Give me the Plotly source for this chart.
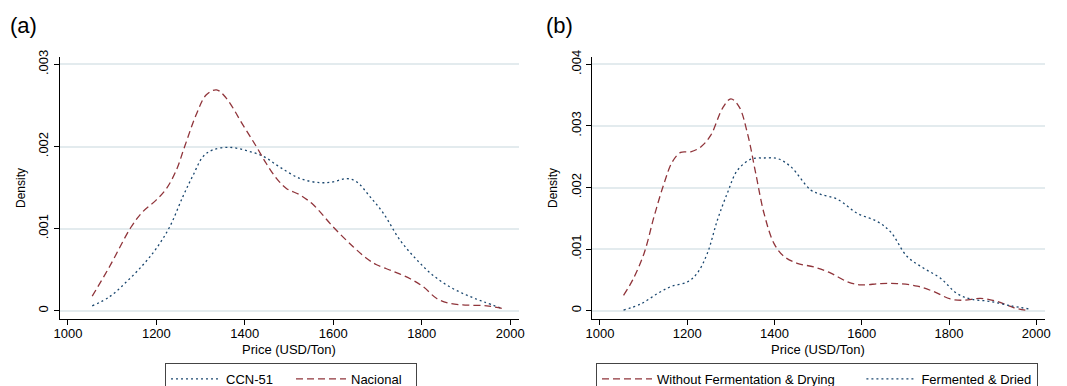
import plotly.graph_objects as go

# Panel (a)
a_ccn_x = [1055, 1094, 1132, 1170, 1200, 1230, 1260, 1283, 1306, 1328, 1366, 1404, 1442, 1479, 1525, 1570, 1600, 1630, 1653, 1683, 1713, 1751, 1789, 1826, 1864, 1902, 1940, 1981]
a_ccn_y = [0.00006, 0.00017, 0.00035, 0.00056, 0.00076, 0.00102, 0.00139, 0.00165, 0.00188, 0.00196, 0.00199, 0.00195, 0.00188, 0.00175, 0.00161, 0.00156, 0.00157, 0.00161, 0.00157, 0.00139, 0.00119, 0.00086, 0.00062, 0.00043, 0.00029, 0.00019, 0.00011, 0.00003]
a_nac_x = [1055, 1094, 1143, 1170, 1200, 1223, 1245, 1264, 1291, 1313, 1336, 1358, 1396, 1426, 1449, 1472, 1494, 1525, 1555, 1600, 1645, 1675, 1698, 1736, 1774, 1804, 1834, 1864, 1902, 1947, 1981]
a_nac_y = [0.000179, 0.000536, 0.00102, 0.00121, 0.00135, 0.00149, 0.00171, 0.00200, 0.00240, 0.00263, 0.00269, 0.00259, 0.00226, 0.00200, 0.00179, 0.00161, 0.00149, 0.00141, 0.00129, 0.00102, 0.00078, 0.00064, 0.00056, 0.00048, 0.00039, 0.00029, 0.00015, 0.00009, 0.00007, 0.00006, 0.00003]

# Panel (b)
b_wo_x = [1054, 1075, 1101, 1124, 1147, 1166, 1185, 1208, 1231, 1254, 1281, 1300, 1319, 1338, 1357, 1376, 1399, 1422, 1452, 1490, 1529, 1567, 1597, 1643, 1681, 1727, 1765, 1803, 1834, 1872, 1910, 1948, 1982]
b_wo_y = [0.00025, 0.00050, 0.00093, 0.00153, 0.00207, 0.00242, 0.00257, 0.00258, 0.00266, 0.00285, 0.00329, 0.00344, 0.00331, 0.00288, 0.00223, 0.00158, 0.00109, 0.00088, 0.00077, 0.00071, 0.00061, 0.00047, 0.00042, 0.00044, 0.00044, 0.00040, 0.00031, 0.00019, 0.00017, 0.00020, 0.00015, 0.00005, 0.0]
b_fd_x = [1054, 1094, 1132, 1162, 1201, 1223, 1246, 1269, 1292, 1315, 1346, 1376, 1407, 1437, 1483, 1506, 1544, 1590, 1635, 1666, 1704, 1742, 1780, 1818, 1849, 1895, 1941, 1982]
b_fd_y = [0.00001, 0.00011, 0.00028, 0.00039, 0.00047, 0.00061, 0.00093, 0.00147, 0.00191, 0.00228, 0.00246, 0.00248, 0.00247, 0.00234, 0.00196, 0.00189, 0.00181, 0.00158, 0.00145, 0.00128, 0.00088, 0.00069, 0.00053, 0.00028, 0.00019, 0.00015, 0.00008, 0.00003]

x_ticks = [1000, 1200, 1400, 1600, 1800, 2000]
a_yticks = [0, 0.001, 0.002, 0.003]
a_ytext = ["0", ".001", ".002", ".003"]
b_yticks = [0, 0.001, 0.002, 0.003, 0.004]
b_ytext = ["0", ".001", ".002", ".003", ".004"]

RED = "#90353b"
BLUE = "#1a476f"
GRID = "#e3ebee"
FONT = "Liberation Sans"
DASH = "7px,4px"
DOT = "2px,3px"
PAD = "\u00a0" * 6

fig = go.Figure()
fig.add_trace(go.Scatter(x=a_ccn_x, y=a_ccn_y, mode="lines", name="CCN-51",
                         line=dict(color=BLUE, width=1.3, dash=DOT, shape="spline"),
                         xaxis="x", yaxis="y", legend="legend"))
fig.add_trace(go.Scatter(x=a_nac_x, y=a_nac_y, mode="lines", name="Nacional",
                         line=dict(color=RED, width=1.3, dash=DASH, shape="spline"),
                         xaxis="x", yaxis="y", legend="legend"))
fig.add_trace(go.Scatter(x=b_wo_x, y=b_wo_y, mode="lines", name="Without Fermentation & Drying" + PAD,
                         line=dict(color=RED, width=1.3, dash=DASH, shape="spline"),
                         xaxis="x2", yaxis="y2", legend="legend2"))
fig.add_trace(go.Scatter(x=b_fd_x, y=b_fd_y, mode="lines", name="Fermented & Dried",
                         line=dict(color=BLUE, width=1.3, dash=DOT, shape="spline"),
                         xaxis="x2", yaxis="y2", legend="legend2"))

yb, yt = 1 - 319 / 386, 1 - 57 / 386
xa = [59.5 / 1067, 519 / 1067]
xb = [591.7 / 1067, 1045 / 1067]

common_x = dict(range=[981, 2020], tickvals=x_ticks, showline=True, linecolor="black", linewidth=1,
                ticks="outside", ticklen=5, tickcolor="black", showgrid=False, zeroline=False,
                automargin=False, ticklabelstandoff=-3,
                tickfont=dict(size=13, color="black", family=FONT))
common_y = dict(showline=True, linecolor="black", linewidth=1, ticks="outside", ticklen=5,
                tickcolor="black", showgrid=True, gridcolor=GRID, gridwidth=2, zeroline=False,
                automargin=False, tickangle=-90, tickfont=dict(size=13, color="black", family=FONT))

fig.update_layout(
    width=1067, height=386, margin=dict(l=0, r=0, t=0, b=0, autoexpand=False),
    paper_bgcolor="white", plot_bgcolor="white",
    font=dict(family=FONT, color="black"),
    xaxis=dict(domain=xa, anchor="y", **common_x),
    yaxis=dict(domain=[yb, yt], anchor="x", range=[-0.0001, 0.00309],
               tickvals=a_yticks, ticktext=a_ytext, **common_y),
    xaxis2=dict(domain=xb, anchor="y2", **common_x),
    yaxis2=dict(domain=[yb, yt], anchor="x2", range=[-0.000135, 0.00412],
                tickvals=b_yticks, ticktext=b_ytext, **common_y),
    legend=dict(orientation="h", x=165 / 1067, xanchor="left", y=1 - 363 / 386, yanchor="top",
                bordercolor="#444", borderwidth=1, bgcolor="white", itemwidth=50,
                font=dict(size=13, family=FONT), entrywidth=60, tracegroupgap=0),
    legend2=dict(orientation="h", x=596 / 1067, xanchor="left", y=1 - 363 / 386, yanchor="top",
                 bordercolor="#444", borderwidth=1, bgcolor="white", itemwidth=50,
                 font=dict(size=13, family=FONT), tracegroupgap=0),
    annotations=[
        dict(text="(a)", x=8 / 1067, y=1 - 25 / 386, xref="paper", yref="paper", xanchor="left",
             yanchor="middle", showarrow=False, font=dict(size=22, family=FONT)),
        dict(text="(b)", x=544 / 1067, y=1 - 25 / 386, xref="paper", yref="paper", xanchor="left",
             yanchor="middle", showarrow=False, font=dict(size=22, family=FONT)),
        dict(text="Density", x=21 / 1067, y=1 - 188 / 386, xref="paper", yref="paper", textangle=-90,
             xanchor="center", yanchor="middle", showarrow=False, font=dict(size=12, family=FONT)),
        dict(text="Density", x=553 / 1067, y=1 - 188 / 386, xref="paper", yref="paper", textangle=-90,
             xanchor="center", yanchor="middle", showarrow=False, font=dict(size=12, family=FONT)),
        dict(text="Price (USD/Ton)", x=289 / 1067, y=1 - 349 / 386, xref="paper", yref="paper",
             xanchor="center", yanchor="middle", showarrow=False, font=dict(size=13, family=FONT)),
        dict(text="Price (USD/Ton)", x=818 / 1067, y=1 - 349 / 386, xref="paper", yref="paper",
             xanchor="center", yanchor="middle", showarrow=False, font=dict(size=13, family=FONT)),
    ],
)

fig.write_html("out.html", config={"displayModeBar": False},
               post_script="document.body.style.margin='0px';document.body.style.overflow='hidden';")
